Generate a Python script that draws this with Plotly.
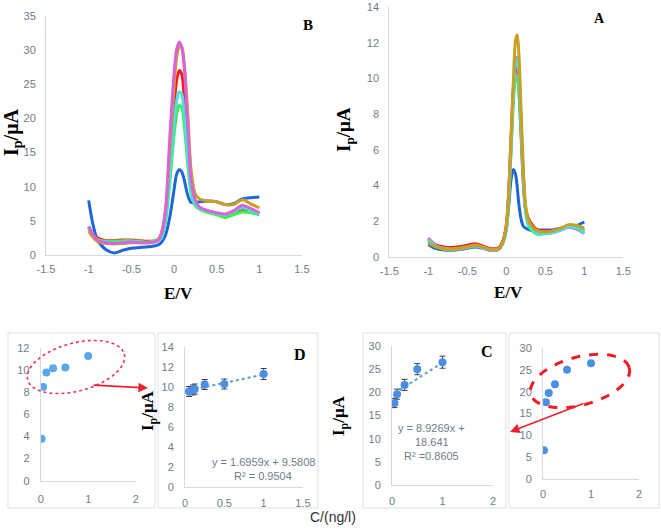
import numpy as np
import plotly.graph_objects as go

W, H = 661, 531

# ---------------- data ----------------
# Panel B voltammograms
xB = [-1, -0.95, -0.9, -0.8, -0.7, -0.6, -0.5, -0.4, -0.3, -0.2,
      -0.15, -0.1, -0.05, 0, 0.03, 0.06, 0.09, 0.12, 0.16, 0.2, 0.25, 0.3,
      0.4, 0.5, 0.6, 0.7, 0.8, 0.9, 1.0]
B_blue = [8.0, 4.5, 2.3, 0.8, 0.3, 0.7, 1.0, 1.1, 1.2, 1.4,
          1.8, 2.9, 5.5, 9.5, 11.8, 12.5, 12.2, 11.0, 8.8, 7.7, 7.7, 7.8,
          7.9, 7.8, 7.4, 7.5, 8.2, 8.4, 8.5]
B_red = [4.0, 3.0, 2.5, 2.1, 2.1, 2.2, 2.2, 2.1, 2.0, 2.1,
         2.6, 5.5, 13.0, 21.5, 25.5, 27.0, 26.5, 23.0, 16.0, 9.8, 7.6, 6.9,
         6.3, 6.0, 5.6, 6.0, 6.7, 6.5, 6.1]
B_green = [3.8, 2.8, 2.3, 2.0, 2.0, 2.1, 2.1, 2.0, 1.9, 2.2,
           2.5, 4.8, 10.5, 17.5, 20.5, 21.9, 21.6, 19.0, 13.5, 9.0, 7.2, 6.7,
           6.2, 5.9, 5.5, 5.9, 6.3, 6.2, 5.9]
B_cyan = [4.2, 3.0, 2.2, 1.9, 1.8, 1.9, 2.0, 1.9, 1.8, 2.0,
          2.4, 5.0, 11.5, 19.0, 22.5, 23.9, 23.6, 20.5, 14.5, 9.5, 7.4, 6.8,
          6.4, 6.1, 5.9, 6.3, 6.9, 6.5, 6.0]
B_gold = [3.5, 2.6, 2.0, 1.7, 1.6, 1.7, 1.8, 1.8, 1.8, 2.1,
          3.2, 6.5, 15.0, 24.5, 28.8, 30.4, 30.5, 28.0, 21.0, 12.5, 8.9, 8.2,
          7.9, 7.8, 7.4, 7.4, 8.1, 7.5, 6.9]
B_pink = [4.2, 3.0, 2.2, 1.8, 1.7, 1.8, 1.9, 1.8, 1.8, 2.0,
          3.0, 6.5, 17.0, 26.5, 30.0, 31.2, 30.5, 27.5, 19.5, 11.0, 8.0, 7.0,
          6.5, 6.2, 6.0, 6.5, 7.3, 6.8, 6.2]

# Panel A voltammograms
xA = [-1, -0.95, -0.9, -0.8, -0.7, -0.6, -0.5, -0.4, -0.3, -0.2, -0.1, -0.05,
      0, 0.03, 0.06, 0.09, 0.12, 0.14, 0.16, 0.19, 0.22, 0.25, 0.3,
      0.4, 0.5, 0.6, 0.7, 0.8, 0.9, 1.0]
A_blue = [0.7, 0.55, 0.45, 0.38, 0.36, 0.4, 0.48, 0.55, 0.48, 0.35, 0.4, 0.8,
          1.6, 2.8, 4.3, 4.9, 4.6, 3.9, 3.0, 2.1, 1.7, 1.6, 1.5,
          1.5, 1.5, 1.5, 1.6, 1.7, 1.75, 1.95]
A_red = [1.0, 0.8, 0.65, 0.55, 0.52, 0.56, 0.64, 0.72, 0.6, 0.45, 0.5, 0.8,
         1.8, 3.6, 6.6, 9.4, 10.6, 10.5, 9.5, 6.8, 4.0, 2.6, 2.0,
         1.5, 1.45, 1.45, 1.55, 1.7, 1.6, 1.45]
A_green = [0.9, 0.7, 0.55, 0.42, 0.38, 0.42, 0.5, 0.58, 0.5, 0.36, 0.42, 0.7,
           1.5, 3.1, 5.8, 8.6, 10.0, 10.1, 9.4, 6.9, 4.1, 2.4, 1.6,
           1.25, 1.3, 1.4, 1.55, 1.75, 1.7, 1.5]
A_pink = [1.05, 0.8, 0.6, 0.45, 0.4, 0.45, 0.52, 0.6, 0.5, 0.35, 0.4, 0.7,
          1.6, 3.3, 6.1, 9.2, 11.0, 11.2, 10.4, 7.5, 4.4, 2.6, 1.8,
          1.35, 1.3, 1.35, 1.5, 1.65, 1.55, 1.3]
A_cyan = [0.95, 0.75, 0.6, 0.47, 0.43, 0.47, 0.55, 0.62, 0.52, 0.38, 0.42, 0.72,
          1.5, 3.2, 6.0, 9.0, 10.9, 11.1, 10.5, 7.6, 4.5, 2.6, 1.7,
          1.3, 1.3, 1.35, 1.5, 1.7, 1.6, 1.35]
A_gold = [0.8, 0.65, 0.55, 0.45, 0.43, 0.48, 0.56, 0.65, 0.55, 0.42, 0.45, 0.75,
          1.7, 3.5, 6.5, 9.8, 12.2, 12.45, 11.5, 8.2, 4.8, 2.8, 1.9,
          1.45, 1.4, 1.45, 1.6, 1.8, 1.75, 1.6]

# Panel D overview and D
Dov_x = [0.02, 0.05, 0.12, 0.26, 0.52, 1.0]
Dov_y = [3.8, 8.5, 9.8, 10.2, 10.25, 11.3]
D_x = [0.05, 0.1, 0.125, 0.25, 0.5, 1.0]
D_y = [9.55, 9.7, 9.8, 10.25, 10.3, 11.3]
D_err = [0.5, 0.5, 0.5, 0.5, 0.5, 0.55]
D_trend_x = [0.05, 1.0]
D_trend_y = [9.65, 11.25]

# Panel C and C overview
C_x = [0.05, 0.1, 0.25, 0.5, 1.0]
C_y = [17.7, 19.6, 21.6, 25.0, 26.5]
C_err = [1.0, 1.1, 1.2, 1.2, 1.3]
C_trend_x = [0.05, 1.0]
C_trend_y = [19.8, 26.4]
Cov_x = [0.02, 0.06, 0.12, 0.25, 0.5, 1.0]
Cov_y = [6.6, 17.6, 19.7, 21.7, 25.0, 26.5]

# ---------------- style ----------------
COL = {"blue": "#1f66d6", "red": "#ff1a1a", "green": "#3cf04a",
       "cyan": "#44e2dc", "gold": "#c9a020", "pink": "#dc62dc"}
TICK_COL = "#6d7d8b"
LINE_COL = "#d9d9d9"
TICKFONT = dict(family="Liberation Sans", size=11, color=TICK_COL)


def dx(p0, p1):
    return [p0 / W, p1 / W]


def dy(pb, pt):
    return [1 - pb / H, 1 - pt / H]


def px(x):
    return x / W


def py(y):
    return 1 - y / H


def axis(domain, rng, tickvals, ticktext=None, ticklen=4, anchor=None):
    d = dict(domain=domain, range=rng, tickvals=tickvals, showgrid=False,
             zeroline=False, showline=True, linecolor=LINE_COL, linewidth=1,
             ticks="outside", tickcolor="rgba(0,0,0,0)", ticklen=ticklen,
             tickfont=TICKFONT, fixedrange=True, automargin=False)
    if ticktext is not None:
        d["ticktext"] = ticktext
    if anchor:
        d["anchor"] = anchor
    return d


fig = go.Figure()

# Panel B curves
for name, ys in [("blue", B_blue), ("red", B_red), ("green", B_green),
                 ("cyan", B_cyan), ("gold", B_gold), ("pink", B_pink)]:
    fig.add_trace(go.Scatter(x=xB, y=ys, mode="lines", xaxis="x", yaxis="y",
                             line=dict(color=COL[name], width=3, shape="spline", smoothing=0.8),
                             showlegend=False, hoverinfo="skip"))

# Panel A curves
for name, ys in [("blue", A_blue), ("red", A_red), ("green", A_green),
                 ("pink", A_pink), ("cyan", A_cyan), ("gold", A_gold)]:
    fig.add_trace(go.Scatter(x=xA, y=ys, mode="lines", xaxis="x2", yaxis="y2",
                             line=dict(color=COL[name], width=3, shape="spline", smoothing=0.8),
                             showlegend=False, hoverinfo="skip"))

# D overview
fig.add_trace(go.Scatter(x=Dov_x, y=Dov_y, mode="markers", xaxis="x3", yaxis="y3",
                         marker=dict(color="#5aa8ea", size=8), showlegend=False))
# D
fig.add_trace(go.Scatter(x=D_trend_x, y=D_trend_y, mode="lines", xaxis="x4", yaxis="y4",
                         line=dict(color="#5b9bd5", width=2, dash="dot"), showlegend=False))
fig.add_trace(go.Scatter(x=D_x, y=D_y, mode="markers", xaxis="x4", yaxis="y4",
                         marker=dict(color="#4a8ee6", size=8),
                         error_y=dict(type="data", array=D_err, color="#404040", thickness=1, width=3),
                         showlegend=False))
# C
fig.add_trace(go.Scatter(x=C_trend_x, y=C_trend_y, mode="lines", xaxis="x5", yaxis="y5",
                         line=dict(color="#5b9bd5", width=2, dash="dot"), showlegend=False))
fig.add_trace(go.Scatter(x=C_x, y=C_y, mode="markers", xaxis="x5", yaxis="y5",
                         marker=dict(color="#4a8ee6", size=8),
                         error_y=dict(type="data", array=C_err, color="#404040", thickness=1, width=3),
                         showlegend=False))
# C overview
fig.add_trace(go.Scatter(x=Cov_x, y=Cov_y, mode="markers", xaxis="x6", yaxis="y6",
                         marker=dict(color="#4a8ee6", size=8), showlegend=False))

layout = dict(
    width=W, height=H, autosize=False,
    margin=dict(l=0, r=0, t=0, b=0, pad=0, autoexpand=False),
    paper_bgcolor="white", plot_bgcolor="rgba(0,0,0,0)",
    showlegend=False,
)

tx15 = [-1.5, -1, -0.5, 0, 0.5, 1, 1.5]
tt15 = ["-1.5", "-1", "-0.5", "0", "0.5", "1", "1.5"]

layout["xaxis"] = axis(dx(46, 302), [-1.5, 1.5], tx15, tt15, anchor="y")
layout["yaxis"] = axis(dy(255, 16), [0, 35], list(range(0, 36, 5)), ticklen=7, anchor="x")
layout["xaxis2"] = axis(dx(389.3, 623.3), [-1.5, 1.5], tx15, tt15, anchor="y2")
layout["yaxis2"] = axis(dy(256.7, 7.3), [0, 14], list(range(0, 15, 2)), ticklen=7, anchor="x2")
layout["xaxis3"] = axis(dx(40.7, 135.7), [0, 2], [0, 1, 2], ticklen=8, anchor="y3")
layout["yaxis3"] = axis(dy(480.7, 348.3), [0, 12], list(range(0, 13, 2)), ticklen=8, anchor="x3")
layout["xaxis4"] = axis(dx(185, 303), [0, 1.5], [0, 0.5, 1, 1.5], ticklen=6, anchor="y4")
layout["yaxis4"] = axis(dy(487, 347), [0, 14], list(range(0, 15, 2)), ticklen=8, anchor="x4")
layout["xaxis5"] = axis(dx(392, 493), [0, 2], [0, 1, 2], ticklen=6, anchor="y5")
layout["yaxis5"] = axis(dy(485, 346), [0, 30], list(range(0, 31, 5)), ticklen=8, anchor="x5")
layout["xaxis6"] = axis(dx(543, 639), [0, 2], [0, 1, 2], ticklen=5, anchor="y6")
layout["yaxis6"] = axis(dy(479, 348), [0, 30], list(range(0, 31, 5)), ticklen=8, anchor="x6")

fig.update_layout(**layout)

# ---------------- shapes ----------------
shapes = []
for (x0, y0, x1, y1) in [(8, 333, 155, 508), (158, 333, 318, 508),
                         (363, 333, 506, 508), (509, 333, 659, 508)]:
    shapes.append(dict(type="rect", xref="paper", yref="paper",
                       x0=px(x0), x1=px(x1), y0=py(y1), y1=py(y0),
                       line=dict(color="#dde3e8", width=1), layer="below"))


def ellipse_path(cx, cy, a, b, ang_deg, n=60):
    t = np.linspace(0, 2 * np.pi, n)
    th = np.deg2rad(ang_deg)
    xs = cx + a * np.cos(t) * np.cos(th) + b * np.sin(t) * np.sin(th)
    ys = cy - a * np.cos(t) * np.sin(th) + b * np.sin(t) * np.cos(th)
    pts = [f"{px(x):.5f},{py(y):.5f}" for x, y in zip(xs, ys)]
    return "M" + " L".join(pts) + " Z"


shapes.append(dict(type="path", xref="paper", yref="paper",
                   path=ellipse_path(76, 367, 50, 24, 15),
                   line=dict(color="#f2305a", width=1.6, dash="dot")))
shapes.append(dict(type="path", xref="paper", yref="paper",
                   path=ellipse_path(580, 381, 51, 24, 15),
                   line=dict(color="#ee1c25", width=3, dash="dash")))
fig.update_layout(shapes=shapes)

# ---------------- annotations ----------------
ann = []
SERIF = "Liberation Serif"


def text(x, y, s, size, family=SERIF, color="black", angle=0, xanchor="center"):
    ann.append(dict(x=px(x), y=py(y), xref="paper", yref="paper", text=s,
                    showarrow=False, textangle=angle, xanchor=xanchor, yanchor="middle",
                    font=dict(family=family, size=size, color=color)))


text(308, 25, "<b>B</b>", 15)
text(599, 18, "<b>A</b>", 14)
text(300, 354, "<b>D</b>", 16)
text(487, 351, "<b>C</b>", 16)
text(178, 293, "<b>E/V</b>", 17)
text(508, 292, "<b>E/V</b>", 17)
text(13, 133, "<b>I<sub>p</sub>/μA</b>", 20, angle=-90)
text(345, 130, "<b>I<sub>p</sub>/μA</b>", 19, angle=-90)
text(149, 411, "<b>I<sub>p</sub>/μA</b>", 17, angle=-90)
text(340, 416, "<b>I<sub>p</sub>/μA</b>", 17, angle=-90)

SANS = "Liberation Sans"
text(263, 462, "y = 1.6959x + 9.5808", 11, family=SANS, color=TICK_COL)
text(263, 476, "R² = 0.9504", 11, family=SANS, color=TICK_COL)
text(432, 428, "y = 8.9269x +", 11, family=SANS, color=TICK_COL)
text(432, 442, "18.641", 11, family=SANS, color=TICK_COL)
text(432, 456, "R² =0.8605", 11, family=SANS, color=TICK_COL)
text(333, 517, "C/(ng/l)", 14, family=SANS, color="#333333")

# arrows
ann.append(dict(x=px(148), y=py(388), xref="paper", yref="paper", text="",
                showarrow=True, ax=92 - 148, ay=385 - 388, axref="pixel", ayref="pixel",
                arrowhead=2, arrowsize=1.2, arrowwidth=1.6, arrowcolor="#ee2030"))
ann.append(dict(x=px(510), y=py(432), xref="paper", yref="paper", text="",
                showarrow=True, ax=585 - 510, ay=403 - 432, axref="pixel", ayref="pixel",
                arrowhead=2, arrowsize=1.2, arrowwidth=1.6, arrowcolor="#ee2030"))

fig.update_layout(annotations=ann)

fig.write_html("out.html", config={"displayModeBar": False, "staticPlot": True},
               post_script="document.body.style.margin='0';document.body.style.padding='0';")
